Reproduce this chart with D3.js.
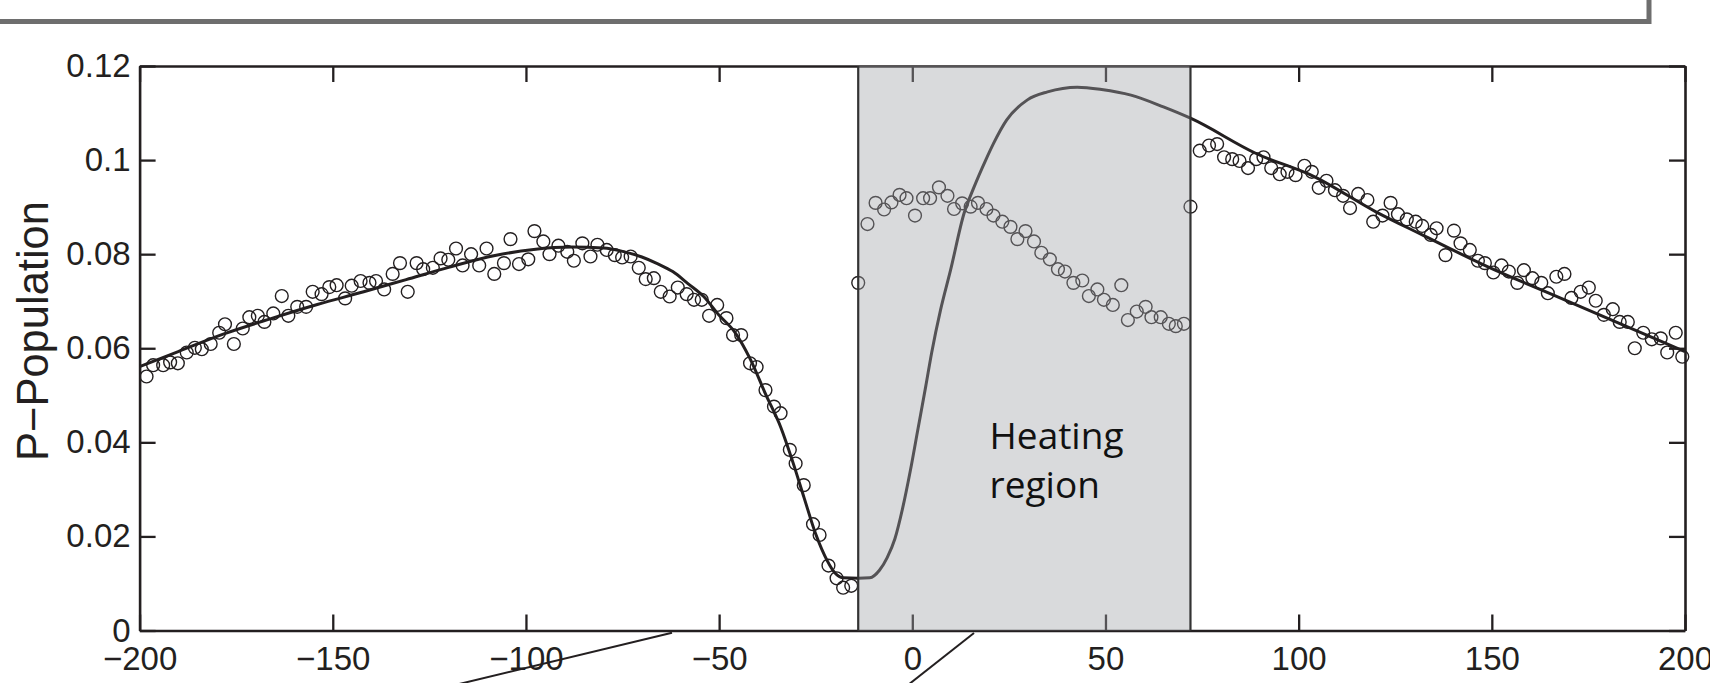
<!DOCTYPE html>
<html>
<head>
<meta charset="utf-8">
<script src="https://cdnjs.cloudflare.com/ajax/libs/d3/7.8.5/d3.min.js"></script>
<style>
  body { margin: 0; background: #fff; overflow: hidden; }
  svg { display: block; }
</style>
</head>
<body>
<div id="chart"></div>
<script>
// ---------- Data ----------
const pointX = [
  -198.2, -196.5, -193.9, -192.1, -190.1, -187.8, -185.7, -183.9, -181.6, -179.4,
  -177.9, -175.6, -173.3, -171.6, -169.4, -167.7, -165.4, -163.2, -161.5, -159.2,
  -156.9, -155.2, -152.9, -150.9, -149.0, -146.8, -145.1, -142.8, -140.5, -138.8,
  -136.7, -134.5, -132.6, -130.6, -128.3, -126.6, -124.1, -122.1, -120.1, -118.1,
  -116.4, -114.2, -112.1, -110.2, -108.2, -105.7, -104.0, -101.8, -99.4, -97.8,
  -95.5, -93.9, -91.6, -89.3, -87.6, -85.4, -83.3, -81.5, -79.1, -77.0,
  -75.1, -72.9, -70.8, -69.0, -66.9, -65.1, -62.8, -60.7, -58.4, -56.5,
  -54.5, -52.6, -50.5, -48.1, -46.4, -44.3, -42.0, -40.3, -38.0, -35.8,
  -34.1, -31.7, -30.2, -28.1, -25.7, -24.0, -21.7, -19.6, -17.9, -15.8,
  -14.0, -11.6, -9.5, -7.3, -5.4, -3.3, -1.5, 0.7, 2.8, 4.6,
  6.9, 9.1, 10.8, 12.9, 15.1, 17.0, 19.2, 21.0, 23.3, 25.4,
  27.2, 29.3, 31.5, 33.4, 35.6, 37.7, 39.5, 41.7, 44.0, 45.7,
  47.9, 49.6, 51.9, 54.1, 55.8, 58.1, 60.4, 61.9, 64.3, 66.4,
  68.2, 70.3, 72.0, 74.4, 76.8, 78.9, 80.7, 82.8, 84.7, 86.9,
  89.0, 90.9, 92.9, 95.1, 97.1, 99.2, 101.5, 103.4, 105.2, 107.2,
  109.4, 111.5, 113.3, 115.4, 117.8, 119.3, 121.7, 123.8, 125.7, 128.0,
  130.3, 132.0, 134.2, 135.7, 138.0, 140.2, 141.9, 144.3, 146.4, 148.2,
  150.4, 152.5, 154.4, 156.6, 158.3, 160.5, 162.8, 164.5, 166.7, 168.8,
  170.6, 173.0, 175.1, 176.9, 179.0, 181.3, 183.1, 185.2, 187.0, 189.2,
  191.4, 193.7, 195.4, 197.6, 199.3
];
const pointY = [
  0.0540, 0.0564, 0.0564, 0.0570, 0.0568, 0.0591, 0.0601, 0.0598, 0.0609, 0.0633,
  0.0651, 0.0609, 0.0642, 0.0666, 0.0669, 0.0656, 0.0674, 0.0711, 0.0669, 0.0688,
  0.0688, 0.0720, 0.0715, 0.0730, 0.0734, 0.0706, 0.0733, 0.0743, 0.0739, 0.0743,
  0.0725, 0.0758, 0.0781, 0.0720, 0.0781, 0.0768, 0.0771, 0.0791, 0.0788, 0.0812,
  0.0776, 0.0800, 0.0776, 0.0812, 0.0758, 0.0781, 0.0832, 0.0779, 0.0789, 0.0849,
  0.0827, 0.0800, 0.0818, 0.0805, 0.0786, 0.0823, 0.0795, 0.0820, 0.0809, 0.0798,
  0.0793, 0.0795, 0.0771, 0.0747, 0.0749, 0.0720, 0.0710, 0.0729, 0.0715, 0.0703,
  0.0703, 0.0669, 0.0692, 0.0664, 0.0628, 0.0628, 0.0568, 0.0560, 0.0511, 0.0476,
  0.0462, 0.0384, 0.0355, 0.0309, 0.0226, 0.0203, 0.0138, 0.0111, 0.0091, 0.0095,
  0.0739, 0.0864, 0.0909, 0.0895, 0.0910, 0.0926, 0.0919, 0.0882, 0.0919, 0.0919,
  0.0942, 0.0924, 0.0896, 0.0908, 0.0901, 0.0909, 0.0896, 0.0882, 0.0869, 0.0858,
  0.0832, 0.0849, 0.0827, 0.0803, 0.0789, 0.0768, 0.0763, 0.0739, 0.0744, 0.0711,
  0.0725, 0.0703, 0.0692, 0.0734, 0.0660, 0.0678, 0.0688, 0.0666, 0.0666, 0.0652,
  0.0647, 0.0652, 0.0901, 0.1020, 0.1031, 0.1034, 0.1006, 0.1002, 0.0998, 0.0983,
  0.1002, 0.1006, 0.0983, 0.0970, 0.0975, 0.0968, 0.0988, 0.0975, 0.0941, 0.0956,
  0.0936, 0.0924, 0.0898, 0.0928, 0.0915, 0.0869, 0.0882, 0.0909, 0.0885, 0.0874,
  0.0869, 0.0860, 0.0841, 0.0855, 0.0798, 0.0850, 0.0823, 0.0809, 0.0786, 0.0781,
  0.0761, 0.0776, 0.0763, 0.0739, 0.0766, 0.0749, 0.0739, 0.0717, 0.0752, 0.0758,
  0.0707, 0.0720, 0.0729, 0.0701, 0.0671, 0.0683, 0.0656, 0.0656, 0.0600, 0.0633,
  0.0619, 0.0621, 0.0591, 0.0633, 0.0582
];

// model curve
const fitX = [
  -200, -190, -178, -166, -154, -142, -131, -120, -108, -98,
  -88, -80, -75, -70, -66, -62, -58, -54, -50, -46,
  -42, -38, -34, -31, -28, -25, -22, -20, -18, -14,
  -11, -8.5, -6.5, -4.5, -2.5, -0.5, 1.5, 3.5, 5, 7.3,
  9.9, 13.4, 16, 19, 21, 24.4, 29.8, 35, 42.7, 49,
  56.6, 65, 72, 89, 104, 120, 132, 149, 166, 183, 200
];
const fitY = [
  0.0561, 0.0593, 0.0631, 0.0663, 0.0693, 0.0720, 0.0746, 0.0772, 0.0797, 0.0810,
  0.0815, 0.0813, 0.0806, 0.0794, 0.0780, 0.0763, 0.0737, 0.0710, 0.0670, 0.0635,
  0.0578, 0.0503, 0.0431, 0.0360, 0.0282, 0.0205, 0.0148, 0.0122, 0.0112, 0.0111,
  0.0112, 0.0128, 0.0155, 0.0195, 0.0260, 0.0340, 0.0430, 0.0520, 0.0590, 0.0681,
  0.0766, 0.0887, 0.0943, 0.1000, 0.1035, 0.1085, 0.1128, 0.1145, 0.1155, 0.1150,
  0.1138, 0.1113, 0.1089, 0.1014, 0.0965, 0.0890, 0.0841, 0.0773, 0.0713, 0.0653, 0.0593
];

const heatingRegion = [-14, 72];
const xTicks = [-200, -150, -100, -50, 0, 50, 100, 150, 200];
const yTicks = [0, 0.02, 0.04, 0.06, 0.08, 0.1, 0.12];

// ---------- Dimensions ----------
const W = 1710, H = 683;
const margin = { top: 66, right: 25, bottom: 52.5, left: 139.6 };
const width = W - margin.left - margin.right;
const height = H - margin.top - margin.bottom;

const svg = d3.select("#chart")
  .append("svg")
  .attr("width", W)
  .attr("height", H);

const g = svg.append("g")
  .attr("transform", `translate(${margin.left},${margin.top})`);

// ---------- Scales ----------
const x = d3.scaleLinear().domain([-200, 200]).range([0, width]);
const y = d3.scaleLinear().domain([0, 0.12]).range([height, 0]);

// ---------- Axes (boxed, inward ticks) ----------
const tickLen = 16;
const fontTicks = "'Liberation Sans', Arial, Helvetica, sans-serif";

function styleAxis(sel) {
  sel.select(".domain").attr("stroke", "#231f20").attr("stroke-width", 2.6);
  sel.selectAll(".tick line").attr("stroke", "#231f20").attr("stroke-width", 2.3);
  sel.selectAll(".tick text")
    .attr("fill", "#231f20")
    .style("font-family", fontTicks)
    .style("font-size", "33px");
}

g.append("g")
  .attr("transform", `translate(0,${height})`)
  .call(d3.axisBottom(x).tickValues(xTicks).tickSizeInner(-tickLen).tickSizeOuter(0).tickPadding(16))
  .call(styleAxis);

g.append("g")
  .call(d3.axisTop(x).tickValues(xTicks).tickSizeInner(-tickLen).tickSizeOuter(0).tickFormat(""))
  .call(styleAxis);

g.append("g")
  .call(d3.axisLeft(y).tickValues(yTicks).tickSizeInner(-tickLen).tickSizeOuter(0).tickPadding(9)
    .tickFormat(d3.format("~g")))
  .call(styleAxis);

g.append("g")
  .attr("transform", `translate(${width},0)`)
  .call(d3.axisRight(y).tickValues(yTicks).tickSizeInner(-tickLen).tickSizeOuter(0).tickFormat(""))
  .call(styleAxis);

// y label
svg.append("text")
  .attr("transform", "translate(48,331) rotate(-90)")
  .attr("text-anchor", "middle")
  .attr("fill", "#231f20")
  .style("font-family", fontTicks)
  .style("font-size", "43.5px")
  .text("P\u2212Population");

// ---------- Fit curve ----------
const fit = fitX.map((v, i) => ({ x: v, y: fitY[i] }));
const line = d3.line()
  .x(d => x(d.x))
  .y(d => y(d.y))
  .curve(d3.curveMonotoneX);

g.append("path")
  .datum(fit)
  .attr("fill", "none")
  .attr("stroke", "#231f20")
  .attr("stroke-width", 3)
  .attr("d", line);

// ---------- Points ----------
const points = pointX.map((v, i) => ({ x: v, y: pointY[i] }));
g.selectAll("circle.pt")
  .data(points)
  .enter()
  .append("circle")
  .attr("class", "pt")
  .attr("cx", d => x(d.x))
  .attr("cy", d => y(d.y))
  .attr("r", 6.4)
  .attr("fill", "none")
  .attr("stroke", "#231f20")
  .attr("stroke-width", 1.4);

// ---------- Heating region (translucent overlay) ----------
g.append("rect")
  .attr("x", x(heatingRegion[0]))
  .attr("y", 0)
  .attr("width", x(heatingRegion[1]) - x(heatingRegion[0]))
  .attr("height", height)
  .attr("fill", "rgb(160,162,167)")
  .attr("fill-opacity", 0.4);

g.selectAll("line.edge")
  .data(heatingRegion)
  .enter()
  .append("line")
  .attr("class", "edge")
  .attr("x1", d => x(d))
  .attr("x2", d => x(d))
  .attr("y1", 0)
  .attr("y2", height)
  .attr("stroke", "#333")
  .attr("stroke-width", 2.2);

const label = g.append("text")
  .attr("fill", "#111")
  .style("font-family", "'Open Sans', 'Noto Sans', sans-serif")
  .style("font-size", "37px");
label.append("tspan").attr("x", x(20)).attr("y", y(0.0385)).text("Heating");
label.append("tspan").attr("x", x(20)).attr("y", y(0.0281)).text("region");

// ---------- Decorations around the panel ----------
svg.append("path")
  .attr("d", "M0,21.5 H1649 V0")
  .attr("fill", "none")
  .attr("stroke", "#6e6e6e")
  .attr("stroke-width", 5);

svg.append("line")
  .attr("x1", 455).attr("y1", 685).attr("x2", 672).attr("y2", 632.7)
  .attr("stroke", "#231f20").attr("stroke-width", 2);
svg.append("line")
  .attr("x1", 908).attr("y1", 685).attr("x2", 974).attr("y2", 633)
  .attr("stroke", "#231f20").attr("stroke-width", 2);
</script>
</body>
</html>
